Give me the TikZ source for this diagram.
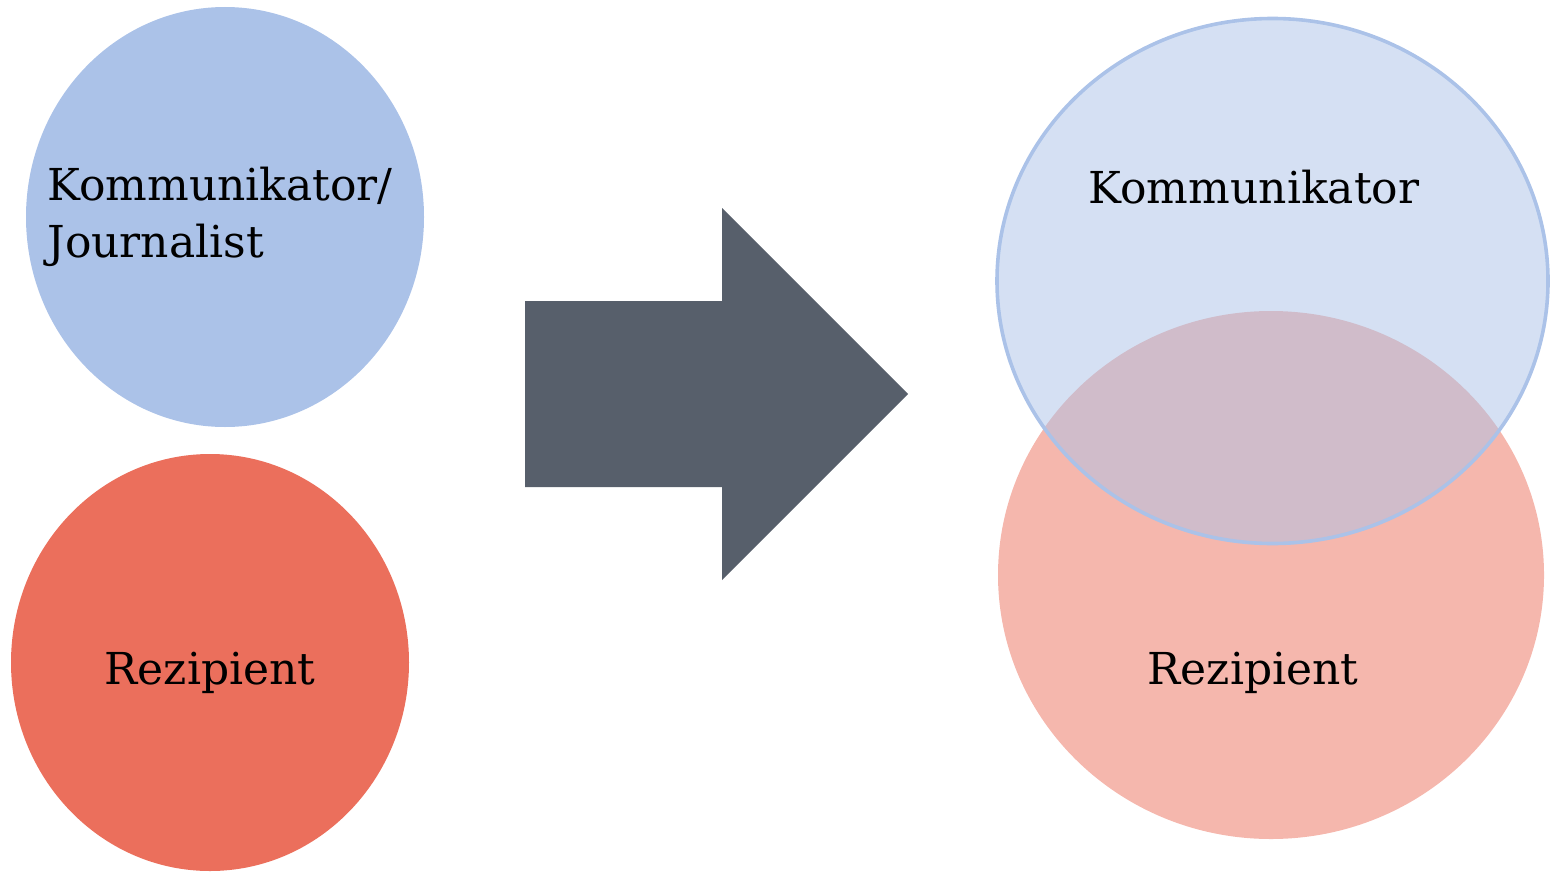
\documentclass[tikz,border=0pt]{standalone}
\usepackage{fontspec}
\setmainfont{DejaVu Serif}
\usetikzlibrary{shapes.geometric}
\definecolor{kommblue}{HTML}{ABC2E8}
\definecolor{rezred}{HTML}{EB6F5C}
\definecolor{arrowgray}{HTML}{575F6B}
\tikzset{
	rolle/.style={ellipse, inner sep=0pt},
	beschr/.style={font=\fontsize{22}{28.5}\selectfont, text=black, inner sep=0pt},
}
\begin{document}
\begin{tikzpicture}[x=0.5pt, y=-0.5pt]
		\useasboundingbox (0,0) rectangle (1550,872);
		
		% links: getrennte Rollen
		\node[rolle, fill=kommblue, minimum width=199pt, minimum height=210pt] (K1) at (225,217) {};
		\node[rolle, fill=rezred, minimum width=199pt, minimum height=208.5pt] (R1) at (210,662.5) {};
		\node[beschr, align=left, anchor=west] (K1t) at (47,217) {Kommunikator/\\Journalist};
		\node[beschr, anchor=base] (R1t) at (210,684) {Rezipient};
		
		% Pfeil in der Mitte
		\fill[arrowgray] (525,301) -- (722,301) -- (722,208) -- (908,394) -- (722,580) -- (722,487) -- (525,487) -- cycle;
		
		% rechts: ueberlappende Rollen
		\node[rolle, fill=rezred, fill opacity=0.5, minimum width=273pt, minimum height=264pt] (R2) at (1271,575) {};
		\node[rolle, fill=kommblue, fill opacity=0.5, draw=kommblue, line width=1.8pt, minimum width=275.5pt, minimum height=262.5pt] (K2) at (1272.5,281) {};
		\node[beschr, anchor=base] (K2t) at (1254,203) {Kommunikator};
		\node[beschr, anchor=base] (R2t) at (1253,684) {Rezipient};
	\end{tikzpicture}
\end{document}
